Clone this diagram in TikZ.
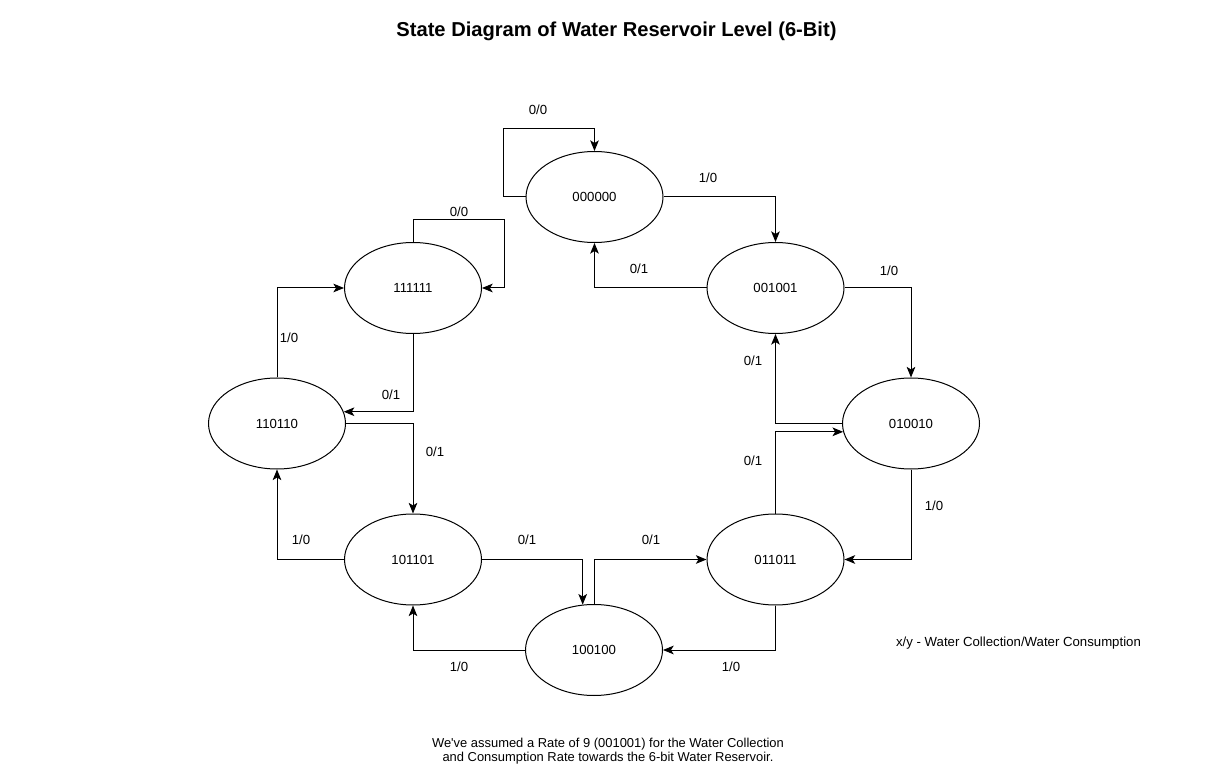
\documentclass[tikz,border=0pt]{standalone}
\usepackage{fontspec}
\setmainfont{Liberation Sans}[Ligatures=TeXOff]
\usepackage{tikz}
\usetikzlibrary{shapes.geometric,arrows.meta,positioning}

\begin{document}
\begin{tikzpicture}[x=0.75pt, y=-0.75pt,
        state/.style={draw, ellipse, line width=0.75pt, minimum width=102.75pt, minimum height=68.25pt, inner sep=0pt, font=\fontsize{9.9}{12}\selectfont},
        arr/.style={line width=0.75pt, -{Stealth[length=8pt, width=6.5pt, inset=2pt]}},
        lbl/.style={font=\fontsize{9.9}{12}\selectfont}]
        \useasboundingbox (0,0) rectangle (1225,784);

        % Title
        \node[font=\fontsize{15.1}{18}\selectfont\bfseries] (title) at (616.5,31) {State Diagram of Water Reservoir Level (6-Bit)};

        % States
        \node[state] (s0)  at (594.5,197) {000000};
        \node[state] (s9)  at (775.5,288) {001001};
        \node[state] (s18) at (911,423.5) {010010};
        \node[state] (s27) at (775.5,559.5) {011011};
        \node[state] (s36) at (594,650) {100100};
        \node[state] (s45) at (413,559.5) {101101};
        \node[state] (s54) at (277,423.5) {110110};
        \node[state] (s63) at (413,288) {111111};

        % Self loop corners
        \coordinate (l0) at (503,129);
        \coordinate (l63) at (504,220);

        % 000000
        \draw[arr] (s0.west) -| (l0) -| (s0.north);
        \node[lbl] (t1) at (538,110) {0/0};
        \draw[arr] (s0.east) -| (s9.north);
        \node[lbl] (t2) at (708,178) {1/0};

        % 001001
        \draw[arr] (s9.west) -| (s0.south);
        \node[lbl] (t3) at (639,269) {0/1};
        \draw[arr] (s9.east) -| (s18.north);
        \node[lbl] (t4) at (889,271) {1/0};

        % 010010
        \draw[arr] (s18.west) -| (s9.south);
        \node[lbl] (t5) at (753,361) {0/1};
        \draw[arr] (s18.south) |- (s27.east);
        \node[lbl] (t6) at (934,506) {1/0};

        % 011011
        \draw[arr] (s27.north) |- (s18.187);
        \node[lbl] (t7) at (753,461) {0/1};
        \draw[arr] (s27.south) |- (s36.east);
        \node[lbl] (t8) at (731,667) {1/0};

        % 100100
        \draw[arr] (s36.north) |- (s27.west);
        \node[lbl] (t9) at (651,540) {0/1};
        \draw[arr] (s36.west) -| (s45.south);
        \node[lbl] (t10) at (459,667) {1/0};

        % 101101
        \draw[arr] (s45.east) -| (s36.104);
        \node[lbl] (t11) at (527,540) {0/1};
        \draw[arr] (s45.west) -| (s54.south);
        \node[lbl] (t12) at (301,540) {1/0};

        % 110110
        \draw[arr] (s54.east) -| (s45.north);
        \node[lbl] (t13) at (435,452) {0/1};
        \draw[arr] (s54.north) |- (s63.west);
        \node[lbl] (t14) at (289,338) {1/0};

        % 111111
        \draw[arr] (s63.south) |- (s54.10);
        \node[lbl] (t15) at (391,395) {0/1};
        \draw[arr] (s63.north) |- (l63) |- (s63.east);
        \node[lbl] (t16) at (459,212) {0/0};

        % Legend
        \node[lbl] (legend) at (1018.5,643) {x/y - Water Collection/Water Consumption};

        % Note
        \node[font=\fontsize{9.7}{10.6}\selectfont, align=center] (note) at (608,751) {We've assumed a Rate of 9 (001001) for the Water Collection\\and Consumption Rate towards the 6-bit Water Reservoir.};
    \end{tikzpicture}
\end{document}
